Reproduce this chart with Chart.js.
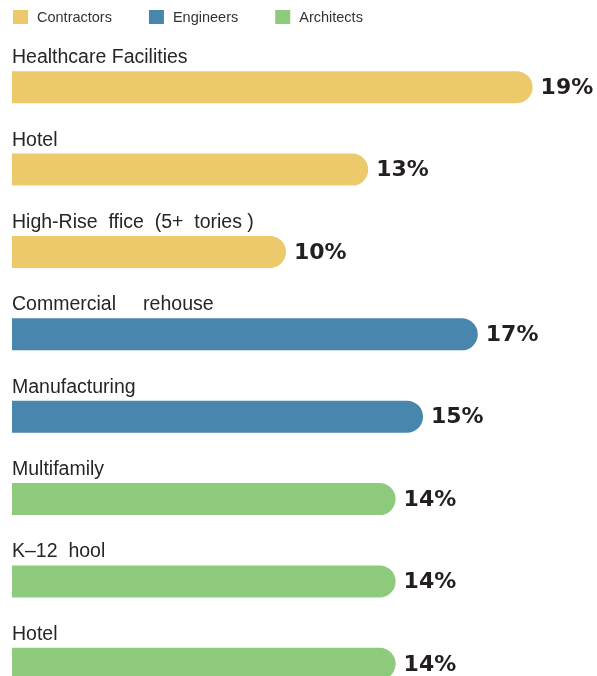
<!DOCTYPE html>
<html>
<head>
<meta charset="utf-8">
<script src="https://cdn.jsdelivr.net/npm/chart.js@4.4.1/dist/chart.umd.min.js"></script>
<style>
  html, body { margin: 0; padding: 0; background: #ffffff; overflow: hidden; }
  #wrap { position: relative; width: 597px; height: 705px; }
</style>
</head>
<body>
<div id="wrap"><canvas id="c"></canvas></div>
<script>
const categories = [
  'Healthcare Facilities',
  'Hotel',
  'High-Rise  ffice  (5+  tories )',
  'Commercial     rehouse',
  'Manufacturing',
  'Multifamily',
  'K\u201312  hool',
  'Hotel'
];
const values = [19, 13, 10, 17, 15, 14, 14, 14];
const valueLabels = ['19%', '13%', '10%', '17%', '15%', '14%', '14%', '14%'];
const groups = ['Contractors', 'Contractors', 'Contractors', 'Engineers', 'Engineers', 'Architects', 'Architects', 'Architects'];
const seriesNames = ['Contractors', 'Engineers', 'Architects'];
const seriesColors = ['#ECC96A', '#4886AD', '#8DCA7C'];

const datasets = seriesNames.map((name, s) => ({
  label: name,
  data: values.map((v, i) => groups[i] === name ? v : null),
  backgroundColor: seriesColors[s],
  borderWidth: 0,
  borderRadius: 16,
  borderSkipped: 'start',
  grouped: false,
  barPercentage: 0.389,
  categoryPercentage: 1.0
}));

const labelFont = '19.5px "Liberation Sans", Arial, sans-serif';
const valueFont = 'bold 22px "DejaVu Sans", sans-serif';
const legendFont = '14.5px "Liberation Sans", Arial, sans-serif';

const annotate = {
  id: 'annotate',
  afterDatasetsDraw(chart) {
    const ctx = chart.ctx;
    const xs = chart.scales.x, ys = chart.scales.y;
    ctx.save();
    categories.forEach((cat, i) => {
      const cy = ys.getPixelForValue(i);
      const xEnd = xs.getPixelForValue(values[i]);
      const x0 = xs.getPixelForValue(0);
      ctx.font = labelFont;
      ctx.fillStyle = '#262626';
      ctx.textAlign = 'left';
      ctx.textBaseline = 'alphabetic';
      ctx.fillText(cat, x0, cy - 24);
      ctx.font = valueFont;
      ctx.fillStyle = '#231f20';
      ctx.textBaseline = 'middle';
      ctx.fillText(valueLabels[i], xEnd + 8, cy + 1);
    });
    // legend
    let lx = 13;
    const ly = 17;
    ctx.font = legendFont;
    ctx.textBaseline = 'middle';
    chart.data.datasets.forEach((ds) => {
      ctx.fillStyle = ds.backgroundColor;
      ctx.fillRect(lx, ly - 7, 15, 14);
      ctx.fillStyle = '#333333';
      ctx.fillText(ds.label, lx + 24, ly + 1);
      lx += 24 + ctx.measureText(ds.label).width + 37;
    });
    ctx.restore();
  }
};

new Chart(document.getElementById('c'), {
  type: 'bar',
  data: { labels: categories, datasets: datasets },
  options: {
    indexAxis: 'y',
    responsive: true,
    maintainAspectRatio: false,
    animation: false,
    layout: { padding: { top: 46, left: 12, right: 0, bottom: 0 } },
    plugins: { legend: { display: false }, tooltip: { enabled: false } },
    scales: {
      x: { display: false, min: 0, max: 21.35 },
      y: { display: false }
    }
  },
  plugins: [annotate]
});
</script>
</body>
</html>
